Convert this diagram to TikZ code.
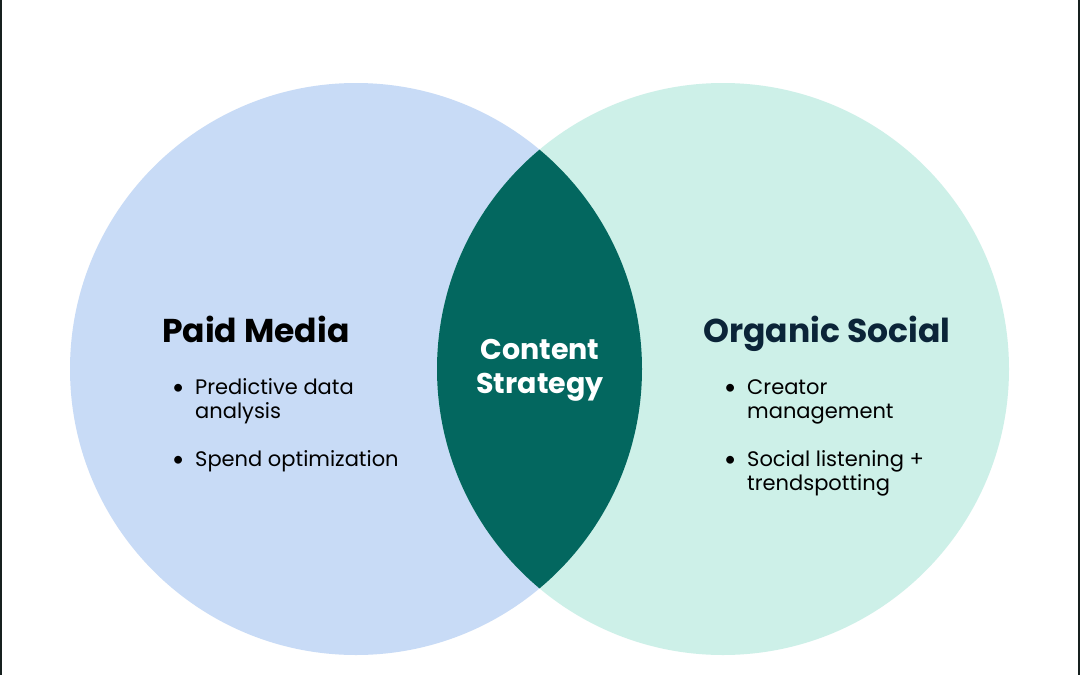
\documentclass[tikz,border=0pt]{standalone}
\usepackage{fontspec}
\setmainfont{Poppins}
\newfontfamily\bulletfont{Lato}
\usepackage{xcolor}
\usepackage{tikz}
\usetikzlibrary{positioning}

\definecolor{paidblue}{HTML}{C8DBF6}
\definecolor{organicgreen}{HTML}{CDF0E8}
\definecolor{lensteal}{HTML}{03675F}
\definecolor{navytext}{HTML}{0B2438}
\definecolor{edgedark}{HTML}{16201F}

\newcommand{\itembullet}{\makebox[23pt][l]{\bulletfont\textbullet}}

\begin{document}
\begin{tikzpicture}[x=1pt, y=-1pt,
    title/.style={anchor=base west, inner sep=0pt, font=\fontsize{33}{40}\selectfont\bfseries},
    item/.style={anchor=base west, inner sep=0pt, font=\fontsize{21}{24}\selectfont},
    core/.style={inner sep=0pt, align=center, text=white,
                 font=\fontsize{28.5}{34}\selectfont\bfseries}
]
    \useasboundingbox (0,0) rectangle (1080,675);
    \fill[white] (0,0) rectangle (1080,675);

    % Side edges
    \fill[edgedark] (0,0) rectangle (1.8,675);
    \fill[edgedark] (1078.2,0) rectangle (1080,675);

    % Two circles
    \fill[paidblue] (356,369) circle (286);
    \fill[organicgreen] (723,369) circle (286);

    % Overlap
    \begin{scope}
        \clip (356,369) circle (286);
        \fill[lensteal] (723,369) circle (286);
    \end{scope}

    % Paid Media side
    \node[title] (paid) at (162,342) {Paid Media};
    \node[item] (paid1) at (172,394) {\begin{tabular}[t]{@{}l@{}l@{}}\itembullet & Predictive data\\ & analysis\end{tabular}};
    \node[item] (paid2) at (172,466) {\begin{tabular}[t]{@{}l@{}l@{}}\itembullet & Spend optimization\end{tabular}};

    % Center
    \node[core, anchor=base] (content) at (540,393) {Content\\Strategy};

    % Organic Social side
    \node[title, text=navytext] (organic) at (703,342) {Organic Social};
    \node[item] (org1) at (724,394) {\begin{tabular}[t]{@{}l@{}l@{}}\itembullet & Creator\\ & management\end{tabular}};
    \node[item] (org2) at (724,466) {\begin{tabular}[t]{@{}l@{}l@{}}\itembullet & Social listening +\\ & trendspotting\end{tabular}};
\end{tikzpicture}
\end{document}
